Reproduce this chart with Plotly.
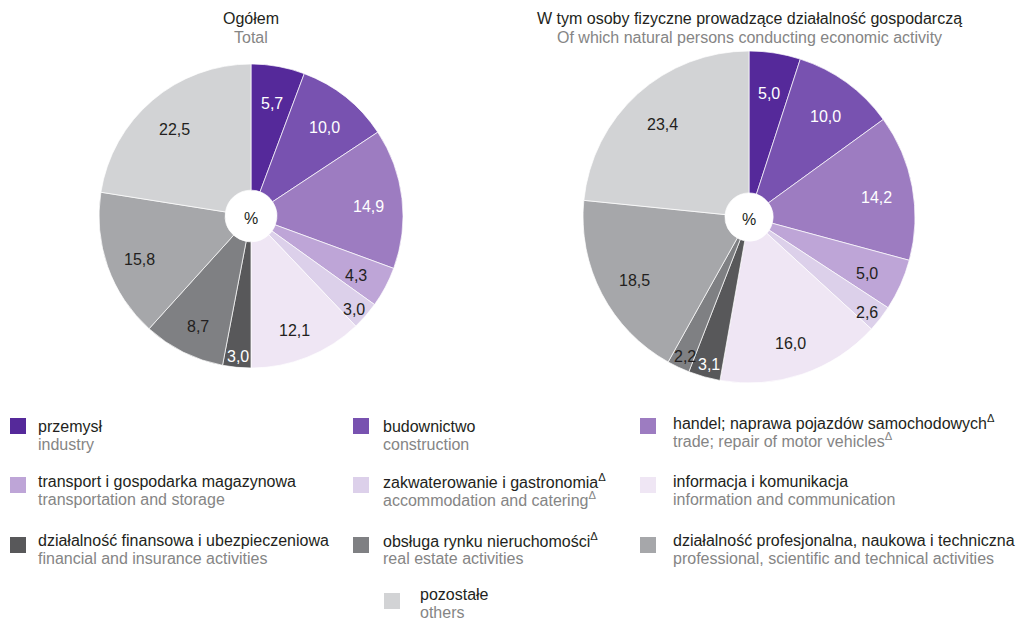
import math
import plotly.graph_objects as go

W, H = 1018, 621

categories_pl = [
    "przemysł", "budownictwo", "handel; naprawa pojazdów samochodowych<sup>Δ</sup>",
    "transport i gospodarka magazynowa", "zakwaterowanie i gastronomia<sup>Δ</sup>",
    "informacja i komunikacja", "działalność finansowa i ubezpieczeniowa",
    "obsługa rynku nieruchomości<sup>Δ</sup>", "działalność profesjonalna, naukowa i techniczna",
    "pozostałe",
]
categories_en = [
    "industry", "construction", "trade; repair of motor vehicles<sup>Δ</sup>",
    "transportation and storage", "accommodation and catering<sup>Δ</sup>",
    "information and communication", "financial and insurance activities",
    "real estate activities", "professional, scientific and technical activities",
    "others",
]
total_values = [5.7, 10.0, 14.9, 4.3, 3.0, 12.1, 3.0, 8.7, 15.8, 22.5]
natural_values = [5.0, 10.0, 14.2, 5.0, 2.6, 16.0, 3.1, 2.2, 18.5, 23.4]

colors = ["#55299a", "#7852b0", "#9d7cc1", "#bea5d7", "#dcd0ea",
          "#efe6f4", "#58585a", "#7f8083", "#a6a7aa", "#d2d3d5"]
label_colors = ["white", "white", "white", "#231f20", "#231f20",
                "#231f20", "white", "#231f20", "#231f20", "#231f20"]

FONT = "Liberation Sans, Arial, sans-serif"
DARK = "#231f20"
GREY = "#858585"
FS = 16

# pie geometry (pixels)
pies = [
    dict(values=total_values, cx=251, cy=216, R=152, hole=0.17,
         t1="Ogółem", t2="Total"),
    dict(values=natural_values, cx=749, cy=217, R=166, hole=0.145,
         t1="W tym osoby fizyczne prowadzące działalność gospodarczą",
         t2="Of which natural persons conducting economic activity"),
]

fig = go.Figure()
annotations = []

def fmt(v):
    return f"{v:.1f}".replace(".", ",")

for p in pies:
    cx, cy, R = p["cx"], p["cy"], p["R"]
    fig.add_trace(go.Pie(
        labels=[c.split("<")[0] for c in categories_pl],
        values=p["values"],
        sort=False, direction="clockwise", rotation=0,
        hole=p["hole"],
        marker=dict(colors=colors, line=dict(color="white", width=0.7)),
        textinfo="none",
        showlegend=False,
        domain=dict(x=[(cx - R - 20) / W, (cx + R + 20) / W],
                    y=[1 - (cy + R) / H, 1 - (cy - R) / H]),
        title=dict(text="%", position="middle center",
                   font=dict(family=FONT, size=FS, color=DARK)),
        hovertemplate="%{label}: %{value}<extra></extra>",
    ))
    total = sum(p["values"])
    cum = 0.0
    for i, v in enumerate(p["values"]):
        mid = (cum + v / 2) / total
        cum += v
        th = 2 * math.pi * mid
        r = R * (0.9 if v < 4 else 0.78)
        x = cx + r * math.sin(th)
        y = cy - r * math.cos(th) + 4
        annotations.append(dict(
            x=x / W, y=1 - y / H, xref="paper", yref="paper",
            text=fmt(v), showarrow=False,
            font=dict(family=FONT, size=FS, color=label_colors[i]),
            xanchor="center", yanchor="middle",
        ))
    annotations.append(dict(x=cx / W, y=1 - 18 / H, xref="paper", yref="paper",
                            text=p["t1"], showarrow=False,
                            font=dict(family=FONT, size=FS, color=DARK),
                            xanchor="center", yanchor="middle"))
    annotations.append(dict(x=cx / W, y=1 - 37 / H, xref="paper", yref="paper",
                            text=p["t2"], showarrow=False,
                            font=dict(family=FONT, size=FS, color=GREY),
                            xanchor="center", yanchor="middle"))

# custom legend (3 columns + centred last row)
col_box_x = [10, 353, 640]
col_text_x = [37, 382, 672]
row_box_top = [418, 477, 537, 593]
row_text_y = [426, 481, 540, 594]
shapes = []
for i in range(len(categories_pl)):
    row, col = divmod(i, 3)
    if row < 3:
        bx, tx = col_box_x[col], col_text_x[col]
    else:
        bx, tx = 384, 419
    by = row_box_top[row]
    ty = row_text_y[row] - (4 if (row == 0 and col == 2) else 0)
    shapes.append(dict(type="rect", xref="paper", yref="paper",
                       x0=bx / W, x1=(bx + 16) / W,
                       y0=1 - (by + 16) / H, y1=1 - by / H,
                       fillcolor=colors[i], line=dict(width=0)))
    annotations.append(dict(x=tx / W, y=1 - ty / H, xref="paper", yref="paper",
                            text=categories_pl[i], showarrow=False, borderpad=0,
                            font=dict(family=FONT, size=FS, color=DARK),
                            xanchor="left", yanchor="middle"))
    annotations.append(dict(x=tx / W, y=1 - (ty + 18) / H, xref="paper", yref="paper",
                            text=categories_en[i], showarrow=False, borderpad=0,
                            font=dict(family=FONT, size=FS, color=GREY),
                            xanchor="left", yanchor="middle"))

fig.update_layout(
    width=W, height=H,
    margin=dict(l=0, r=0, t=0, b=0),
    paper_bgcolor="white", plot_bgcolor="white",
    annotations=annotations, shapes=shapes,
    font=dict(family=FONT),
)

fig.write_html("out.html",
               config={"displayModeBar": False},
               post_script="document.body.style.margin='0';document.body.style.overflow='hidden';")
